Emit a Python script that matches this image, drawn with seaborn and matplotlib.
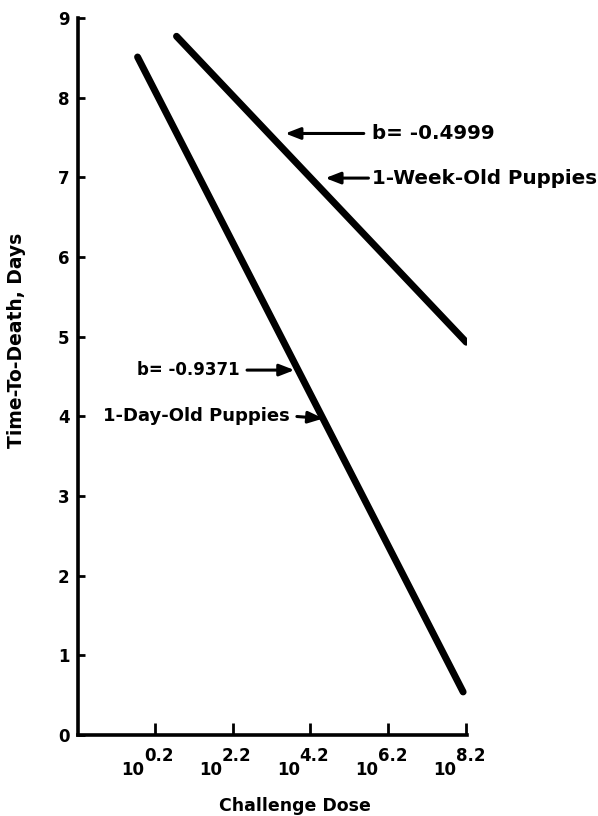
import numpy as np
import pandas as pd
import seaborn as sns
import matplotlib
matplotlib.use("Agg")
import matplotlib.pyplot as plt
from matplotlib.transforms import ScaledTranslation

# Regression lines (x = log10 challenge dose)
dose_log_day = [-0.24, 8.12]
ttd_day = [8.51, 0.54]
dose_log_week = [0.76, 8.20]
ttd_week = [8.77, 4.93]

x_ticks = [0.2, 2.2, 4.2, 6.2, 8.2]
x_exponents = ["0.2", "2.2", "4.2", "6.2", "8.2"]
y_ticks = [0, 1, 2, 3, 4, 5, 6, 7, 8, 9]

df = pd.DataFrame({
    "dose": dose_log_day + dose_log_week,
    "ttd": ttd_day + ttd_week,
    "group": ["1-Day-Old Puppies"] * 2 + ["1-Week-Old Puppies"] * 2,
})

sns.set_style("ticks")
plt.rcParams["font.family"] = ["DejaVu Sans"]
plt.rcParams["font.weight"] = "bold"
plt.rcParams["text.color"] = "black"
plt.rcParams["axes.labelcolor"] = "black"

fig = plt.figure(figsize=(5.98, 8.16), dpi=100)
ax = fig.add_axes([0.1304, 0.0993, 0.6506, 0.8787])

sns.lineplot(data=df, x="dose", y="ttd", hue="group",
             palette=["black", "black"], linewidth=5, legend=False, ax=ax,
             solid_capstyle="round")

ax.set_xlim(-1.77, 8.22)
ax.set_ylim(0, 9)

sns.despine(ax=ax)
for s in ["left", "bottom"]:
    ax.spines[s].set_linewidth(2.6)
    ax.spines[s].set_color("black")

# y axis
ax.set_yticks(y_ticks)
ax.set_yticklabels([str(v) for v in y_ticks], fontsize=12, fontweight="bold")
ax.tick_params(axis="y", direction="in", length=5, width=2, pad=6, colors="black")

# x axis: "10" as major labels, exponents as minor labels on the same ticks
ax.xaxis.remove_overlapping_locs = False
ax.set_xticks(x_ticks)
ax.set_xticklabels(["10"] * len(x_ticks), fontsize=12, fontweight="bold")
ax.set_xticks(x_ticks, minor=True)
ax.set_xticklabels(x_exponents, minor=True, fontsize=12, fontweight="bold")
ax.tick_params(axis="x", which="major", direction="in", length=9, width=2,
               pad=19, colors="black")
ax.tick_params(axis="x", which="minor", direction="in", length=0, pad=9,
               colors="black")
for lab in ax.get_xticklabels():
    lab.set_transform(lab.get_transform() + ScaledTranslation(-0.22, 0, fig.dpi_scale_trans))
for lab in ax.get_xticklabels(minor=True):
    lab.set_transform(lab.get_transform() + ScaledTranslation(0.04, 0, fig.dpi_scale_trans))

ax.set_xlabel("Challenge Dose", fontsize=12.5, fontweight="bold", color="black")
ax.xaxis.set_label_coords(0.558, -0.086)
ax.set_ylabel("Time-To-Death, Days", fontsize=13.5, fontweight="bold", color="black")
ax.yaxis.set_label_coords(-0.134, 0.551)

arrow = dict(arrowstyle="-|>,head_length=0.9,head_width=0.35", color="black", lw=2.2)
txt = dict(fontweight="bold", va="center", color="black")

ax.annotate("", xy=(3.48, 7.55), xytext=(5.64, 7.55), arrowprops=arrow)
ax.text(5.79, 7.55, "b= -0.4999", ha="left", fontsize=14.3, **txt)
ax.annotate("", xy=(4.51, 6.99), xytext=(5.76, 6.99), arrowprops=arrow)
ax.text(5.79, 6.99, "1-Week-Old Puppies", ha="left", fontsize=14.3, **txt)

ax.annotate("", xy=(3.86, 4.58), xytext=(2.5, 4.58), arrowprops=arrow)
ax.text(2.37, 4.58, "b= -0.9371", ha="right", fontsize=12, **txt)
ax.annotate("", xy=(4.6, 3.97), xytext=(3.78, 4.0), arrowprops=arrow)
ax.text(3.66, 4.0, "1-Day-Old Puppies", ha="right", fontsize=13, **txt)

fig.savefig("out.png", dpi=100)
